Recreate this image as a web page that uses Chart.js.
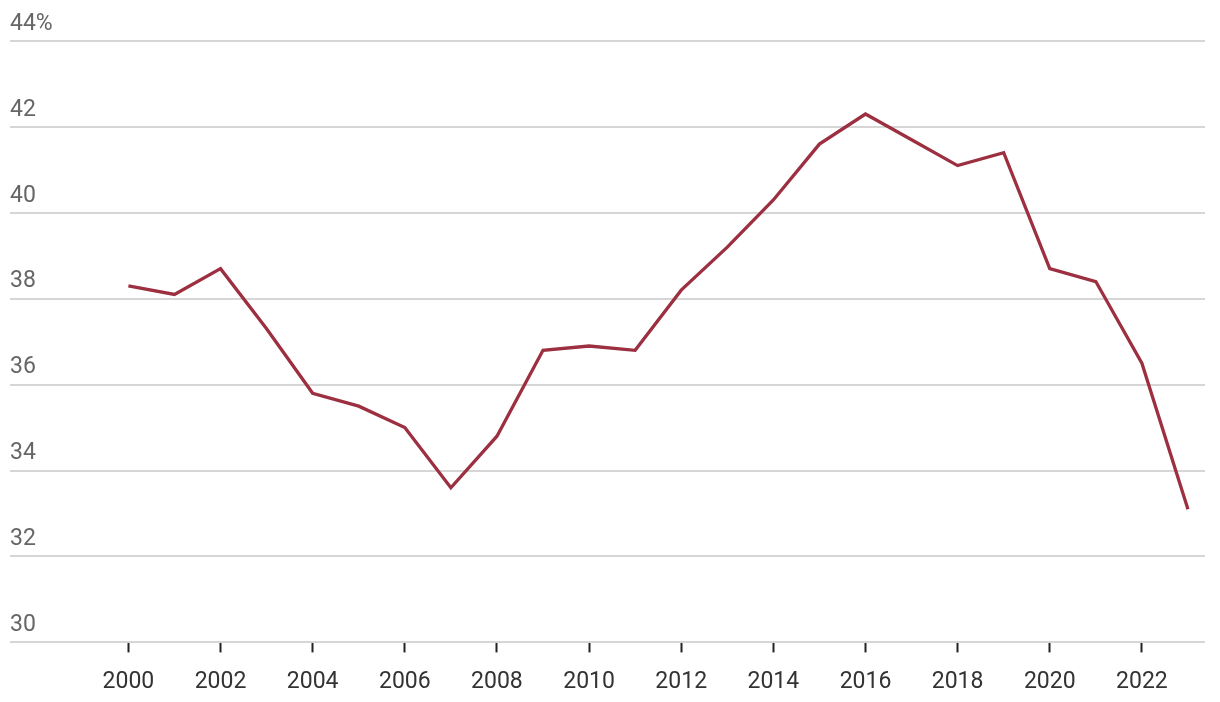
<!DOCTYPE html>
<html>
<head>
<meta charset="utf-8">
<script src="https://cdn.jsdelivr.net/npm/chart.js@4/dist/chart.umd.min.js"></script>
<style>
  html, body { margin: 0; padding: 0; background: #fff; }
  #wrap { width: 1220px; height: 702px; }
</style>
</head>
<body>
<div id="wrap"><canvas id="chart"></canvas></div>
<script>
const years = [2000, 2001, 2002, 2003, 2004, 2005, 2006, 2007, 2008, 2009, 2010, 2011,
  2012, 2013, 2014, 2015, 2016, 2017, 2018, 2019, 2020, 2021, 2022, 2023];
const share = [38.3, 38.1, 38.7, 37.3, 35.8, 35.5, 35.0, 33.6, 34.8, 36.8, 36.9, 36.8,
  38.2, 39.2, 40.3, 41.6, 42.3, 41.7, 41.1, 41.4, 38.7, 38.4, 36.5, 33.1];
const xTicks = [2000, 2002, 2004, 2006, 2008, 2010, 2012, 2014, 2016, 2018, 2020, 2022];
const yTicks = [30, 32, 34, 36, 38, 40, 42, 44];

Chart.defaults.font.family = 'Roboto, "Noto Sans", sans-serif';

new Chart(document.getElementById('chart'), {
  type: 'line',
  data: {
    datasets: [{
      data: years.map((y, i) => ({ x: y, y: share[i] })),
      borderColor: '#9c2f40',
      borderWidth: 3.3,
      pointRadius: 0,
      tension: 0
    }]
  },
  options: {
    responsive: true,
    maintainAspectRatio: false,
    animation: false,
    layout: { padding: { left: 10, right: 15, top: 41, bottom: 0 } },
    plugins: { legend: { display: false }, tooltip: { enabled: false } },
    scales: {
      x: {
        type: 'linear',
        min: 1997.43,
        max: 2023.37,
        afterBuildTicks: axis => { axis.ticks = xTicks.map(v => ({ value: v })); },
        afterFit: axis => { axis.height -= 10; },
        ticks: {
          color: '#333',
          font: { size: 23 },
          padding: 16,
          maxRotation: 0,
          autoSkip: false,
          callback: v => String(v)
        },
        grid: { drawOnChartArea: false, drawTicks: true, tickLength: 10, tickWidth: 2, color: '#222' },
        border: { display: false }
      },
      y: {
        min: 30,
        max: 44,
        afterBuildTicks: axis => { axis.ticks = yTicks.map(v => ({ value: v })); },
        ticks: {
          mirror: true,
          padding: 0,
          labelOffset: -17,
          color: '#666',
          font: { size: 23 },
          callback: v => v === 44 ? '44%' : String(v)
        },
        grid: { color: '#d6d6d6', lineWidth: 2, drawTicks: false },
        border: { display: false }
      }
    }
  }
});
</script>
</body>
</html>
